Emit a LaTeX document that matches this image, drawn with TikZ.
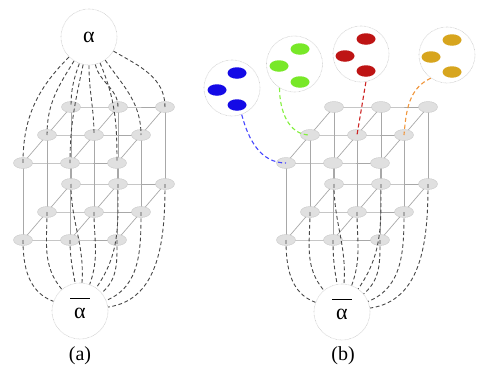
\documentclass[tikz,border=0pt]{standalone}
\usepackage{fontspec}
\setmainfont{Liberation Serif}
\usetikzlibrary{shapes.geometric}
\pgfdeclarelayer{bg}
\pgfsetlayers{bg,main}
\definecolor{edgegray}{RGB}{168,168,168}
\definecolor{nodefill}{RGB}{224,224,224}
\definecolor{nodeline}{RGB}{200,200,200}
\definecolor{blueL}{RGB}{70,70,255}
\definecolor{greenL}{RGB}{130,240,60}
\definecolor{redL}{RGB}{205,35,35}
\definecolor{orangeL}{RGB}{240,150,60}
\definecolor{blueD}{RGB}{20,10,230}
\definecolor{greenD}{RGB}{120,232,40}
\definecolor{redD}{RGB}{190,20,20}
\definecolor{goldD}{RGB}{215,165,30}
\tikzset{
  gnode/.style={ellipse, minimum width=19pt, minimum height=11pt, inner sep=0pt,
    fill=nodefill, draw=nodeline, line width=0.4pt},
  edge/.style={draw=edgegray, line width=0.7pt},
  bigc/.style={circle, minimum size=56pt, inner sep=0pt, draw=gray!40,
    dash pattern=on 0.6pt off 0.7pt, fill=white, line width=0.6pt,
    font=\fontsize{22}{26}\selectfont},
  link/.style={dash pattern=on 3.8pt off 2.6pt, line width=0.9pt, draw=black!72},
  clink/.style={dash pattern=on 4.2pt off 2.8pt, line width=1.1pt},
  dotb/.style={ellipse, minimum width=19pt, minimum height=11.5pt, inner sep=0pt},
  lbl/.style={font=\fontsize{20}{24}\selectfont, inner sep=0pt},
  bartxt/.style={font=\fontsize{22}{26}\selectfont, inner sep=0pt, anchor=base}
}
\begin{document}
\begin{tikzpicture}[x=1pt,y=1pt]
\useasboundingbox (0,0) rectangle (479,-380);
\foreach \p/\o in {a/0,b/263}{
  \foreach \c in {0,1,2}{\foreach \d in {0,1,2}{\foreach \l in {0,1}{
    \node[gnode] (\p\c\d\l) at ({\o+71+47*\c-24*\d},{-(107+28*\d+77*\l)}) {};
  }}}
  \begin{pgfonlayer}{bg}
    \foreach \c in {0,1,2}{\foreach \d in {0,1,2}{
      \draw[edge] (\p\c\d0.center) -- (\p\c\d1.center);
    }}
    \foreach \d in {0,1,2}{\foreach \l in {0,1}{
      \draw[edge] (\p0\d\l.center) -- (\p1\d\l.center) -- (\p2\d\l.center);
    }}
    \foreach \c in {0,1,2}{\foreach \l in {0,1}{
      \draw[edge] (\p\c0\l.center) -- (\p\c1\l.center) -- (\p\c2\l.center);
    }}
  \end{pgfonlayer}
}
% alpha circles
\node[bigc] (al) at (89,-37) {α};
\node[bigc] (abA) at (80,-311) {};
\node[bartxt] (abAt) at (80,-318) {$\overline{\hbox{\hspace{4pt}\rule{0pt}{18pt}α\hspace{4pt}}}$};
\node[bigc] (abB) at (342,-312) {};
\node[bartxt] (abBt) at (342,-319) {$\overline{\hbox{\hspace{4pt}\rule{0pt}{18pt}α\hspace{4pt}}}$};
% top links (a)
\foreach \n/\ang in {a020/225, a010/238, a000/250, a120/258, a110/270, a100/283, a220/293, a210/305, a200/330}
  \draw[link] (al.\ang) to[out=\ang, in=90] (\n.center);
% bottom links (a) and (b)
\foreach \p/\q in {a/abA, b/abB}{
  \foreach \n/\ang in {021/160, 011/130, 121/100, 001/86, 111/70, 101/55, 221/40, 211/22, 201/8}
    \draw[link] (\p\n.center) to[out=-90, in=\ang] (\q.\ang);
}
% coloured circles
\node[bigc] (cb) at (232,-88) {};
\node[dotb, fill=blueD] (cb1) at (237,-73) {};
\node[dotb, fill=blueD] (cb2) at (217,-90) {};
\node[dotb, fill=blueD] (cb3) at (237,-105) {};
\node[bigc] (cg) at (294.5,-64) {};
\node[dotb, fill=greenD] (cg1) at (300,-49) {};
\node[dotb, fill=greenD] (cg2) at (279,-66) {};
\node[dotb, fill=greenD] (cg3) at (300,-82) {};
\node[bigc] (cr) at (361,-54) {};
\node[dotb, fill=redD] (cr1) at (366,-39) {};
\node[dotb, fill=redD] (cr2) at (345,-56) {};
\node[dotb, fill=redD] (cr3) at (366,-71) {};
\node[bigc] (cy) at (447,-55) {};
\node[dotb, fill=goldD] (cy1) at (452,-40) {};
\node[dotb, fill=goldD] (cy2) at (431,-57) {};
\node[dotb, fill=goldD] (cy3) at (452,-72) {};
% coloured links
\draw[clink, draw=blueL] (cb.-70) to[out=-75, in=180] (b020.center);
\draw[clink, draw=greenL] (cg.-122) to[out=-90, in=180] (b010.center);
\draw[clink, draw=redL] (cr.-80) -- (b110.center);
\draw[clink, draw=orangeL] (cy.-125) to[out=205, in=85] (b210.center);
% labels
\node[lbl] (la) at (80,-356) {(a)};
\node[lbl] (lb) at (343,-356) {(b)};
\end{tikzpicture}
\end{document}
